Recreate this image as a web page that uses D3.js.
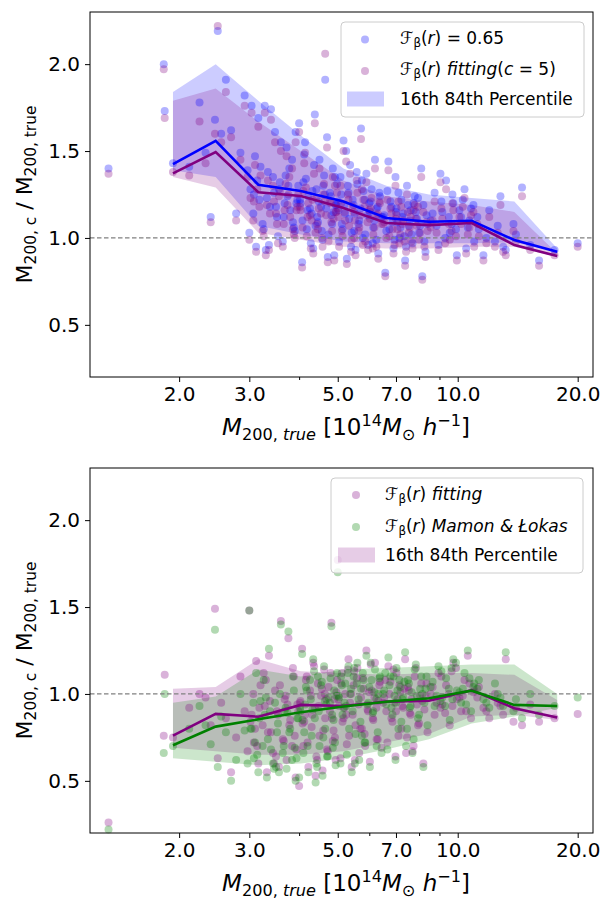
<html>
<head>
<script src="https://cdn.jsdelivr.net/npm/d3@7"></script>
<style>
  body { margin: 0; background: #fff; }
  svg { font-family: "DejaVu Sans", sans-serif; }
  text { white-space: pre; }
</style>
</head>
<body>
<svg id="chart"></svg>
<script>
const WIDTH = 614
const HEIGHT = 902

// bin centres of the median / percentile curves
const massBins = [1.93, 2.47, 3.16, 4.04, 5.17, 6.62, 8.47, 10.84, 13.87, 17.77]

// top panel: F_beta(r) = 0.65 (blue) and fitting c=5 (purple)
const medBeta065 = [1.425, 1.558, 1.306, 1.27, 1.21, 1.115, 1.093, 1.099, 0.988, 0.921]
const hiBeta065  = [1.84, 2.00, 1.79, 1.59, 1.40, 1.30, 1.25, 1.23, 1.21, 0.94]
const loBeta065  = [1.39, 1.35, 1.07, 1.02, 0.98, 0.97, 0.97, 0.97, 0.975, 0.92]
const medFitC5 = [1.372, 1.494, 1.263, 1.241, 1.172, 1.086, 1.074, 1.086, 0.959, 0.896]
const hiFitC5  = [1.79, 1.86, 1.67, 1.50, 1.33, 1.24, 1.21, 1.19, 1.15, 0.91]
const loFitC5  = [1.35, 1.29, 1.03, 0.99, 0.95, 0.94, 0.94, 0.95, 0.95, 0.89]

// bottom panel: fitting (purple) and Mamon & Lokas (green)
const medFit = [0.76, 0.885, 0.869, 0.937, 0.931, 0.956, 0.961, 1.022, 0.918, 0.864]
const hiFit  = [1.03, 1.04, 1.20, 1.13, 1.12, 1.11, 1.12, 1.12, 1.11, 0.965]
const loFit  = [0.69, 0.67, 0.65, 0.65, 0.67, 0.72, 0.77, 0.87, 0.88, 0.85]
const medML = [0.705, 0.812, 0.854, 0.895, 0.928, 0.955, 0.975, 1.019, 0.937, 0.931]
const hiML  = [0.95, 0.985, 1.14, 1.10, 1.14, 1.15, 1.16, 1.17, 1.17, 1.00]
const loML  = [0.63, 0.61, 0.59, 0.60, 0.63, 0.68, 0.74, 0.83, 0.87, 0.92]

// individual haloes (true mass, 1e14 Msun/h)
const haloMass = [
  1.33, 1.83, 1.84, 1.93, 2.12, 2.25, 2.33, 2.40, 2.46, 2.50, 2.55, 2.62, 2.70, 2.78, 2.85, 2.92, 2.97,
  3.00, 3.04, 3.08, 3.12, 3.16, 3.20, 3.24, 3.28, 3.32, 3.36, 3.40, 3.44, 3.48, 3.52, 3.56, 3.60, 3.64, 3.68, 3.72, 3.76, 3.80, 3.84, 3.88, 3.92, 3.96, 3.10, 3.30, 3.50, 3.70, 3.90,
  4.00, 4.03, 4.07, 4.10, 4.14, 4.18, 4.22, 4.26, 4.30, 4.34, 4.38, 4.42, 4.46, 4.50, 4.54, 4.58, 4.62, 4.65, 4.70, 4.74, 4.78, 4.82, 4.86, 4.90, 4.94, 4.98, 4.12, 4.40, 4.64, 4.88,
  5.00, 5.04, 5.08, 5.12, 5.17, 5.22, 5.27, 5.32, 5.37, 5.42, 5.48, 5.54, 5.60, 5.66, 5.72, 5.78, 5.84, 5.90, 5.96, 6.02, 6.08, 6.14, 6.20, 6.26, 6.32, 6.38, 6.44, 5.25, 5.50, 5.75, 6.00, 6.25,
  6.50, 6.58, 6.66, 6.74, 6.82, 6.90, 6.98, 7.06, 7.14, 7.22, 7.30, 7.38, 7.46, 7.54, 7.62, 7.70, 7.80, 7.90, 8.00, 8.10, 8.20, 8.30, 8.40, 6.70, 7.00, 7.35, 7.75, 8.15,
  8.55, 8.75, 8.95, 9.15, 9.35, 9.55, 9.75, 9.95, 10.2, 10.4, 10.6, 10.8, 11.0, 9.05, 9.65, 10.3,
  11.3, 11.6, 12.0, 12.4, 12.8, 13.2, 13.8, 14.5, 15.2, 16.0,
  17.5, 20.0,
  3.02, 3.07, 3.14, 3.18, 3.26, 3.34, 3.38, 3.46, 3.54, 3.58, 3.66, 3.74, 3.78, 3.86, 3.94, 3.98,
  4.02, 4.08, 4.16, 4.20, 4.28, 4.32, 4.36, 4.44, 4.48, 4.56, 4.60, 4.68, 4.72, 4.80, 4.84, 4.92, 4.96,
  5.02, 5.10, 5.14, 5.20, 5.30, 5.34, 5.40, 5.45, 5.52, 5.58, 5.64, 5.70, 5.80, 5.86, 5.94, 6.05, 6.12, 6.18, 6.30, 6.36,
  6.54, 6.62, 6.78, 6.86, 6.94, 7.02, 7.10, 7.18, 7.26, 7.42, 7.50, 7.58, 7.66, 7.85, 7.95, 8.05, 8.25, 8.35,
  8.65, 8.85, 9.10, 9.30, 9.50, 9.70, 9.90, 10.1, 10.5, 10.7, 10.95,
  11.2, 11.8, 12.6, 13.0, 14.0
]
const ratioBeta065 = [
  1.40, 2.00, 1.73, 1.43, 1.41, 1.78, 1.49, 1.12, 1.68, 2.19, 1.60, 1.91, 1.62, 1.14, 1.49, 1.82, 1.39,
  1.03, 1.76, 1.25, 0.95, 1.69, 1.41, 1.08, 1.76, 1.23, 0.96, 1.74, 1.35, 1.61, 1.12, 1.28, 1.55, 0.98, 1.20, 1.52, 1.30, 1.16, 1.45, 1.06, 1.61, 1.22, 1.47, 0.93, 1.18, 1.36, 1.04,
  1.66, 1.20, 0.86, 1.32, 1.55, 1.05, 1.24, 1.17, 1.14, 0.94, 1.71, 1.28, 1.09, 1.45, 1.18, 0.99, 1.36, 1.91, 1.58, 1.02, 1.26, 1.13, 1.40, 0.90, 1.19, 1.31, 1.48, 1.07, 1.25, 1.15,
  1.21, 0.98, 1.35, 1.08, 1.56, 1.14, 0.88, 1.26, 1.42, 1.03, 1.19, 0.93, 1.31, 1.10, 1.63, 1.00, 1.22, 1.37, 0.96, 1.15, 1.28, 1.06, 1.45, 1.17, 0.91, 1.24, 1.12, 1.50, 1.04, 1.33, 1.20, 0.99,
  1.12, 0.80, 1.27, 1.05, 1.18, 0.94, 1.35, 1.09, 1.00, 1.22, 1.14, 0.87, 1.30, 1.07, 1.16, 0.97, 1.24, 1.11, 1.03, 1.40, 1.19, 0.92, 1.08, 1.44, 1.15, 1.01, 1.20, 0.78,
  1.10, 1.26, 0.96, 1.15, 1.33, 1.03, 1.20, 0.90, 1.12, 1.28, 1.06, 1.17, 0.98, 1.37, 1.08, 1.22,
  1.05, 0.90, 1.16, 0.98, 1.24, 0.93, 1.08, 1.29, 0.96, 0.87,
  0.93, 0.97,
  1.28, 1.14, 1.33, 1.22, 1.05, 1.38, 1.18, 1.26, 1.01, 1.32, 1.12, 1.24, 1.40, 1.09, 1.20, 1.30,
  1.22, 1.10, 1.34, 1.16, 0.97, 1.27, 1.42, 1.12, 1.21, 1.04, 1.30, 1.17, 0.89, 1.24, 1.08, 1.35, 1.19,
  1.16, 1.25, 1.05, 1.19, 1.30, 1.11, 0.95, 1.22, 1.14, 1.38, 1.08, 1.17, 1.27, 1.02, 1.13, 1.21, 0.97, 1.10, 1.18, 1.26,
  1.13, 1.04, 1.21, 1.09, 0.99, 1.17, 1.26, 1.06, 1.12, 0.95, 1.19, 1.10, 1.02, 1.15, 1.23, 1.07, 0.98, 1.13,
  1.14, 1.07, 1.21, 1.00, 1.12, 1.25, 1.05, 1.16, 0.94, 1.10, 1.19,
  1.12, 1.00, 1.07, 0.95, 1.02
]
const ratioFitC5 = [
  1.37, 1.97, 1.69, 1.38, 1.36, 1.67, 1.43, 1.09, 1.60, 2.22, 1.55, 1.84, 1.58, 1.10, 1.45, 1.76, 1.35,
  0.99, 1.72, 1.21, 0.92, 1.64, 1.36, 1.04, 1.72, 1.19, 0.93, 1.68, 1.30, 1.55, 1.08, 1.24, 1.50, 0.95, 1.16, 1.47, 1.25, 1.12, 1.40, 1.02, 1.55, 1.18, 1.42, 0.90, 1.14, 1.31, 1.00,
  1.61, 1.16, 0.83, 1.27, 1.49, 1.01, 1.20, 1.13, 1.10, 0.91, 1.66, 1.23, 1.05, 1.40, 1.14, 0.95, 1.31, 2.06, 1.52, 0.98, 1.21, 1.09, 1.35, 0.87, 1.15, 1.26, 1.43, 1.03, 1.21, 1.11,
  1.17, 0.95, 1.30, 1.04, 1.50, 1.10, 0.85, 1.22, 1.37, 0.99, 1.15, 0.90, 1.26, 1.06, 1.57, 0.96, 1.18, 1.32, 0.93, 1.11, 1.23, 1.02, 1.40, 1.13, 0.88, 1.20, 1.08, 1.44, 1.00, 1.28, 1.16, 0.95,
  1.08, 0.78, 1.22, 1.01, 1.14, 0.91, 1.30, 1.05, 0.97, 1.18, 1.10, 0.84, 1.25, 1.03, 1.12, 0.94, 1.19, 1.07, 0.99, 1.35, 1.15, 0.89, 1.04, 1.39, 1.11, 0.98, 1.16, 0.76,
  1.06, 1.21, 0.93, 1.11, 1.28, 0.99, 1.16, 0.87, 1.08, 1.23, 1.02, 1.13, 0.95, 1.32, 1.04, 1.18,
  1.01, 0.87, 1.12, 0.95, 1.19, 0.90, 1.04, 1.24, 0.93, 0.84,
  0.90, 0.95,
  1.23, 1.10, 1.28, 1.18, 1.01, 1.33, 1.14, 1.21, 0.97, 1.27, 1.08, 1.19, 1.35, 1.05, 1.16, 1.25,
  1.18, 1.06, 1.29, 1.12, 0.94, 1.22, 1.37, 1.08, 1.17, 1.00, 1.25, 1.13, 0.86, 1.20, 1.04, 1.30, 1.15,
  1.12, 1.20, 1.01, 1.15, 1.25, 1.07, 0.92, 1.18, 1.10, 1.33, 1.04, 1.13, 1.22, 0.98, 1.09, 1.17, 0.94, 1.06, 1.14, 1.21,
  1.09, 1.00, 1.17, 1.05, 0.96, 1.13, 1.21, 1.02, 1.08, 0.92, 1.15, 1.06, 0.98, 1.11, 1.18, 1.03, 0.95, 1.09,
  1.10, 1.03, 1.17, 0.97, 1.08, 1.20, 1.01, 1.12, 0.91, 1.06, 1.15,
  1.08, 0.97, 1.03, 0.92, 0.98
]
const ratioFit = [
  0.26, 0.76, 1.11, 0.75, 0.92, 1.00, 0.98, 0.82, 1.49, 0.63, 0.95, 0.86, 0.55, 0.75, 1.10, 0.90, 0.67,
  1.48, 0.88, 0.72, 1.19, 0.60, 1.05, 0.82, 0.93, 0.55, 1.22, 0.78, 0.66, 1.02, 0.90, 0.58, 1.42, 0.74, 0.97, 0.62, 1.32, 0.85, 0.70, 1.10, 0.52, 0.94, 0.80, 1.08, 0.64, 0.99, 0.76,
  0.47, 0.96, 1.26, 0.70, 0.88, 1.10, 0.58, 1.02, 0.81, 1.18, 0.92, 0.64, 1.06, 0.76, 0.99, 0.56, 1.14, 0.86, 0.68, 1.04, 0.90, 1.41, 0.73, 0.97, 0.62, 1.08, 0.84, 0.53, 1.00, 0.79,
  1.77, 0.93, 0.63, 1.12, 0.86, 1.00, 0.71, 1.20, 0.95, 0.58, 1.05, 0.82, 1.15, 0.66, 0.98, 1.09, 0.77, 1.25, 0.90, 0.61, 1.02, 0.85, 1.18, 0.74, 0.96, 1.07, 0.69, 0.88, 1.13, 0.80, 1.01, 0.92,
  0.95, 1.08, 0.72, 1.00, 0.86, 1.14, 0.64, 0.97, 1.05, 0.80, 0.92, 1.20, 0.75, 1.02, 0.88, 0.67, 1.10, 0.94, 0.83, 1.06, 0.60, 0.99, 0.78, 1.16, 0.90, 1.03, 0.70, 0.96,
  1.00, 0.88, 1.12, 0.94, 1.05, 0.82, 1.18, 0.97, 0.90, 1.08, 1.22, 0.86, 1.02, 0.92, 1.13, 0.99,
  1.04, 0.92, 0.86, 1.00, 0.93, 1.20, 0.84, 0.82, 0.94, 0.84,
  0.86, 0.885,
  0.84, 1.00, 0.70, 0.92, 1.12, 0.78, 0.96, 0.60, 0.88, 1.05, 0.73, 0.94, 0.82, 1.15, 0.68, 0.90,
  0.95, 0.83, 1.08, 0.72, 0.99, 0.88, 1.16, 0.62, 0.93, 1.03, 0.79, 0.97, 0.67, 1.12, 0.86, 0.75, 1.01,
  0.97, 1.06, 0.84, 0.92, 1.14, 0.76, 1.00, 0.88, 0.62, 1.09, 0.94, 0.80, 1.03, 0.70, 0.91, 1.17, 0.86, 0.98, 0.74, 1.05,
  0.98, 0.90, 1.07, 0.84, 0.95, 1.12, 0.76, 1.01, 0.93, 0.66, 1.04, 0.89, 0.97, 1.15, 0.82, 0.99, 0.91, 1.06,
  1.04, 0.95, 1.10, 0.89, 1.00, 0.93, 1.15, 0.98, 0.90, 1.06, 1.01,
  0.98, 0.90, 0.95, 0.88, 0.92
]
const ratioML = [
  0.22, 0.66, 1.00, 0.70, 0.80, 0.93, 0.82, 0.71, 1.37, 0.58, 0.87, 0.78, 0.50, 0.62, 1.00, 0.79, 0.60,
  1.48, 0.80, 0.63, 1.12, 0.55, 0.96, 0.70, 0.88, 0.52, 1.26, 0.68, 0.60, 0.95, 0.78, 0.55, 1.40, 0.66, 0.90, 0.57, 1.36, 0.80, 0.62, 1.02, 0.50, 0.86, 0.72, 0.98, 0.58, 0.92, 0.69,
  0.52, 0.90, 1.23, 0.66, 0.94, 1.02, 0.55, 1.08, 0.76, 1.20, 0.86, 0.60, 1.10, 0.70, 1.05, 0.53, 1.16, 0.80, 0.64, 0.98, 0.95, 1.39, 0.69, 1.02, 0.59, 1.12, 0.78, 0.49, 0.96, 0.85,
  1.70, 0.98, 0.60, 1.05, 0.92, 1.06, 0.65, 1.16, 1.00, 0.55, 1.10, 0.77, 1.18, 0.62, 1.03, 1.12, 0.72, 1.22, 0.95, 0.58, 1.08, 0.90, 1.14, 0.70, 1.00, 1.10, 0.66, 0.93, 1.15, 0.76, 1.04, 0.97,
  1.00, 1.12, 0.68, 1.05, 0.92, 1.10, 0.62, 1.02, 1.08, 0.84, 0.98, 1.24, 0.80, 1.06, 0.93, 0.66, 1.14, 0.99, 0.88, 1.10, 0.58, 1.03, 0.82, 1.21, 0.95, 1.07, 0.74, 1.00,
  1.04, 0.93, 1.16, 0.98, 1.09, 0.85, 1.20, 1.02, 0.95, 1.12, 1.25, 0.90, 1.06, 0.96, 1.15, 1.03,
  1.08, 0.97, 0.92, 1.06, 0.98, 1.24, 0.90, 0.86, 1.00, 0.88,
  0.93, 0.98,
  0.80, 0.95, 0.65, 0.86, 1.08, 0.74, 0.90, 0.57, 0.83, 1.00, 0.70, 0.89, 0.78, 1.10, 0.63, 0.86,
  0.92, 0.85, 1.04, 0.70, 0.97, 0.91, 1.13, 0.58, 0.90, 1.07, 0.75, 0.94, 0.64, 1.09, 0.88, 0.72, 0.99,
  0.99, 1.10, 0.88, 0.95, 1.12, 0.80, 1.03, 0.90, 0.60, 1.06, 0.97, 0.84, 1.08, 0.72, 0.94, 1.18, 0.89, 1.01, 0.78, 1.09,
  1.02, 0.94, 1.10, 0.88, 0.99, 1.15, 0.80, 1.04, 0.97, 0.70, 1.08, 0.92, 1.01, 1.17, 0.86, 1.03, 0.95, 1.10,
  1.07, 0.99, 1.13, 0.93, 1.03, 0.97, 1.18, 1.01, 0.94, 1.09, 1.04,
  1.03, 0.95, 1.00, 0.93, 0.97
]

const xTickValues = [2, 3, 5, 7, 10, 20]
const xTickLabels = ["2.0", "3.0", "5.0", "7.0", "10.0", "20.0"]
const xMinorTicks = [4, 6, 8, 9]
const yTickValues = [0.5, 1.0, 1.5, 2.0]

const BLUE = "#0000ff", PURPLE = "#800080", GREEN = "#008000"

const svg = d3.select("#chart").attr("width", WIDTH).attr("height", HEIGHT)

const x = d3.scaleLog().domain([1.195, 21.85]).range([90, 593])

// draw text made of pieces (sub/superscripts, italics)
function richText(g, px, py, segs, size, anchor) {
    let t = g.append("text")
        .attr("x", px).attr("y", py)
        .attr("font-size", size)
        .attr("text-anchor", anchor || "start")
        .attr("fill", "#000")
    let cur = 0
    segs.forEach(s => {
        let shift = s.sub ? size * 0.2 : (s.sup ? -size * 0.4 : 0)
        t.append("tspan")
            .text(s.t)
            .attr("dy", shift - cur)
            .attr("font-size", (s.sub || s.sup) ? size * 0.7 : size)
            .attr("font-style", s.it ? "italic" : "normal")
        cur = shift
    })
    return t
}

function drawPanel(top, bottom, series, legend) {
    let y = d3.scaleLinear().domain([0.2, 2.3]).range([bottom, top])
    let g = svg.append("g")

    // percentile bands
    series.forEach(s => {
        let area = d3.area()
            .x((d, i) => x(massBins[i]))
            .y0((d, i) => y(s.lo[i]))
            .y1((d, i) => y(s.hi[i]))
        g.append("path").datum(s.hi).attr("d", area)
            .attr("fill", s.color).attr("fill-opacity", 0.2)
    })

    // scatter of haloes
    series.forEach(s => {
        g.append("g").selectAll("circle")
            .data(haloMass)
            .enter()
            .append("circle")
                .attr("cx", d => x(d))
                .attr("cy", (d, i) => y(s.pts[i]))
                .attr("r", 4)
                .attr("fill", s.color)
                .attr("fill-opacity", 0.3)
    })

    // unity line
    g.append("line")
        .attr("x1", 90).attr("x2", 593)
        .attr("y1", y(1)).attr("y2", y(1))
        .attr("stroke", "#808080").attr("stroke-width", 1.2)
        .attr("stroke-dasharray", "4.5,2.5")

    // median lines
    series.forEach(s => {
        let line = d3.line().x((d, i) => x(massBins[i])).y(d => y(d))
        g.append("path").datum(s.med).attr("d", line)
            .attr("fill", "none").attr("stroke", s.color).attr("stroke-width", 2.6)
    })

    // frame
    g.append("rect").attr("x", 90).attr("y", top)
        .attr("width", 503).attr("height", bottom - top)
        .attr("fill", "none").attr("stroke", "#000").attr("stroke-width", 1)

    // x axis
    let xAxis = d3.axisBottom(x).tickValues(xTickValues)
        .tickFormat((d, i) => xTickLabels[i]).tickSize(5).tickPadding(5)
    let xg = g.append("g").attr("transform", `translate(0,${bottom})`).call(xAxis)
    xg.select(".domain").remove()
    xg.selectAll("text").attr("font-size", 20).attr("font-family", "DejaVu Sans")
    let xm = d3.axisBottom(x).tickValues(xMinorTicks).tickFormat("").tickSize(3)
    let xmg = g.append("g").attr("transform", `translate(0,${bottom})`).call(xm)
    xmg.select(".domain").remove()

    // y axis
    let yAxis = d3.axisLeft(y).tickValues(yTickValues)
        .tickFormat(d3.format(".1f")).tickSize(5).tickPadding(5)
    let yg = g.append("g").attr("transform", "translate(90,0)").call(yAxis)
    yg.select(".domain").remove()
    yg.selectAll("text").attr("font-size", 20).attr("font-family", "DejaVu Sans")

    // axis titles
    richText(g, 346, bottom + 58, [
        {t: "M", it: true}, {t: "200, ", sub: true}, {t: "true", sub: true, it: true},
        {t: " [10"}, {t: "14", sup: true}, {t: "M", it: true}, {t: "⊙", sub: true},
        {t: " "}, {t: "h", it: true}, {t: "−1", sup: true}, {t: "]"}
    ], 23, "middle")

    let yl = g.append("g").attr("transform", `translate(32,${(top + bottom) / 2}) rotate(-90)`)
    richText(yl, 0, 0, [
        {t: "M"}, {t: "200, c", sub: true}, {t: " / M"}, {t: "200, true", sub: true}
    ], 22, "middle")

    // legend
    let L = legend
    g.append("rect").attr("x", L.x).attr("y", L.y).attr("width", L.w).attr("height", L.h)
        .attr("rx", 4).attr("fill", "#fff").attr("fill-opacity", 0.8)
        .attr("stroke", "#cccccc").attr("stroke-width", 1)
    L.rows.forEach(r => {
        if (r.kind === "dot") {
            g.append("circle").attr("cx", L.markX).attr("cy", r.my).attr("r", 4)
                .attr("fill", r.color).attr("fill-opacity", 0.3)
        } else {
            g.append("rect").attr("x", L.markX - 18).attr("y", r.my - 7.5)
                .attr("width", 37).attr("height", 15)
                .attr("fill", r.color).attr("fill-opacity", 0.2)
        }
        richText(g, L.textX, r.ty, r.segs, 17, "start")
    })
}

const Fb = [{t: "ℱ"}, {t: "β", sub: true}, {t: "("}, {t: "r", it: true}, {t: ")"}]

drawPanel(12, 377, [
    {color: BLUE, pts: ratioBeta065, med: medBeta065, lo: loBeta065, hi: hiBeta065},
    {color: PURPLE, pts: ratioFitC5, med: medFitC5, lo: loFitC5, hi: hiFitC5}
], {
    x: 341, y: 22, w: 243, h: 95, markX: 365, textX: 400,
    rows: [
        {kind: "dot", color: BLUE, my: 39.5, ty: 44, segs: Fb.concat([{t: " = 0.65"}])},
        {kind: "dot", color: PURPLE, my: 71, ty: 75,
            segs: Fb.concat([{t: " "}, {t: "fitting", it: true}, {t: "("}, {t: "c", it: true}, {t: " = 5)"}])},
        {kind: "patch", color: BLUE, my: 99, ty: 105, segs: [{t: "16th 84th Percentile"}]}
    ]
})

drawPanel(468, 833, [
    {color: PURPLE, pts: ratioFit, med: medFit, lo: loFit, hi: hiFit},
    {color: GREEN, pts: ratioML, med: medML, lo: loML, hi: hiML}
], {
    x: 331, y: 478, w: 252, h: 95, markX: 356, textX: 385,
    rows: [
        {kind: "dot", color: PURPLE, my: 495, ty: 500,
            segs: Fb.concat([{t: " "}, {t: "fitting", it: true}])},
        {kind: "dot", color: GREEN, my: 527, ty: 532,
            segs: Fb.concat([{t: " "}, {t: "Mamon & Łokas", it: true}])},
        {kind: "patch", color: PURPLE, my: 555, ty: 561, segs: [{t: "16th 84th Percentile"}]}
    ]
})
</script>
</body>
</html>
